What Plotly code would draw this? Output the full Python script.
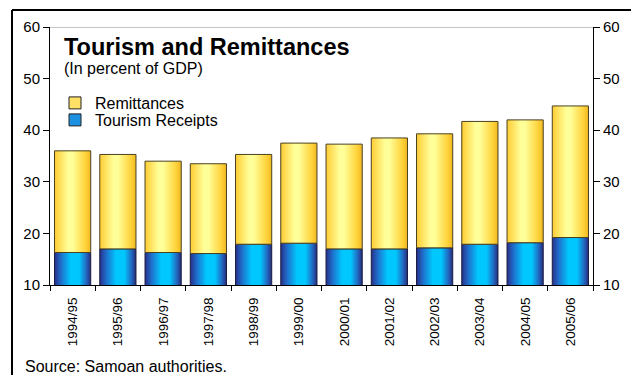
import plotly.graph_objects as go

# Fiscal years and shares of GDP (percent)
periods = ["1994/95", "1995/96", "1996/97", "1997/98", "1998/99", "1999/00",
           "2000/01", "2001/02", "2002/03", "2003/04", "2004/05", "2005/06"]
tourism = [16.3, 17.0, 16.3, 16.1, 17.9, 18.1, 17.0, 17.0, 17.2, 17.9, 18.2, 19.2]
remittances = [19.7, 18.3, 17.7, 17.4, 17.4, 19.4, 20.3, 21.5, 22.1, 23.8, 23.8, 25.5]

FONT = "Liberation Sans, Arial, sans-serif"
HALF = 0.4  # half bar width in category units

blue_scale = [[0.0, "#28308A"], [0.18, "#1F6FCB"], [0.45, "#00C8FF"],
              [0.68, "#00C8FF"], [0.88, "#2367C0"], [1.0, "#242C7A"]]
yellow_scale = [[0.0, "#FFCC33"], [0.38, "#FFFF99"], [0.5, "#FFFF99"],
                [0.86, "#FFD23A"], [1.0, "#F0B820"]]

fig = go.Figure()


def add_segment(i, base, top, scale, edge):
    x0, x1 = i - HALF, i + HALF
    fig.add_trace(go.Scatter(
        x=[x0, x1, x1, x0, x0],
        y=[base, base, top, top, base],
        mode="lines",
        fill="toself",
        fillgradient=dict(type="horizontal", colorscale=scale, start=x0, stop=x1),
        line=dict(color=edge, width=1),
        hoverinfo="skip",
        showlegend=False,
    ))


for i, (t, r) in enumerate(zip(tourism, remittances)):
    add_segment(i, 0, t, blue_scale, "#1A1A40")
    add_segment(i, t, t + r, yellow_scale, "#4A4020")

# invisible trace so the right-hand axis is drawn
fig.add_trace(go.Scatter(x=[None], y=[None], yaxis="y2", mode="lines",
                         showlegend=False, hoverinfo="skip"))

# legend entries, one per legend box for exact row placement
fig.add_trace(go.Bar(x=[None], y=[None], name="Remittances", legend="legend",
                     marker=dict(color="#FFE066", line=dict(color="#222", width=1))))
fig.add_trace(go.Bar(x=[None], y=[None], name="Tourism Receipts", legend="legend2",
                     marker=dict(color="#1E90E0", line=dict(color="#222", width=1))))

W, H = 631, 375
L, R, T, B = 50, 38, 27, 90
pw, ph = W - L - R, H - T - B


def px(x):
    return (x - L) / pw


def py(y):
    return (H - B - y) / ph


legend_style = dict(xanchor="left", yanchor="middle", bgcolor="rgba(0,0,0,0)",
                    font=dict(size=16), borderwidth=0, itemwidth=30)

fig.update_layout(
    width=W, height=H,
    margin=dict(l=L, r=R, t=T, b=B),
    paper_bgcolor="white", plot_bgcolor="white",
    font=dict(family=FONT, size=15, color="black"),
    showlegend=True,
    legend=dict(x=px(55), y=py(103), **legend_style),
    legend2=dict(x=px(55), y=py(120), **legend_style),
    xaxis=dict(
        range=[-0.5, len(periods) - 0.5],
        tickmode="array",
        tickvals=list(range(len(periods))),
        ticktext=periods,
        tickangle=-90,
        ticks="",
        ticklabelstandoff=6,
        tickfont=dict(size=13.5),
        showline=True, linecolor="black", linewidth=1,
        showgrid=False, zeroline=False,
        minor=dict(tickmode="array",
                   tickvals=[k - 0.5 for k in range(len(periods) + 1)],
                   ticks="outside", ticklen=5, tickcolor="black", showgrid=False),
    ),
    yaxis=dict(
        range=[10, 60], dtick=10, tick0=10,
        ticks="outside", ticklen=6, tickcolor="black",
        showline=True, linecolor="black", linewidth=1,
        showgrid=False, zeroline=False,
        tickfont=dict(size=15),
    ),
    yaxis2=dict(
        range=[10, 60], dtick=10, tick0=10,
        overlaying="y", side="right", anchor="x",
        ticks="outside", ticklen=6, tickcolor="black",
        showline=True, linecolor="black", linewidth=1,
        showgrid=False, zeroline=False,
        tickfont=dict(size=15),
    ),
    shapes=[
        # top edge of plotting area
        dict(type="line", xref="paper", yref="y", x0=0, x1=1, y0=60, y1=60,
             line=dict(color="#8C8C8C", width=1)),
        # outer frame
        dict(type="line", xref="paper", yref="paper", x0=px(12), x1=px(640),
             y0=py(10), y1=py(10), line=dict(color="black", width=2)),
        dict(type="line", xref="paper", yref="paper", x0=px(12), x1=px(12),
             y0=py(10), y1=py(385), line=dict(color="black", width=2)),
    ],
    annotations=[
        dict(text="<b>Tourism and Remittances</b>", xref="paper", yref="paper",
             x=px(62), y=py(47), xanchor="left", yanchor="middle", showarrow=False,
             font=dict(size=23.5)),
        dict(text="(In percent of GDP)", xref="paper", yref="paper",
             x=px(62), y=py(69), xanchor="left", yanchor="middle", showarrow=False,
             font=dict(size=16)),
        dict(text="Source: Samoan authorities.", xref="paper", yref="paper",
             x=px(23), y=py(366), xanchor="left", yanchor="middle", showarrow=False,
             font=dict(size=16)),
    ],
)

fig.write_html("out.html")
